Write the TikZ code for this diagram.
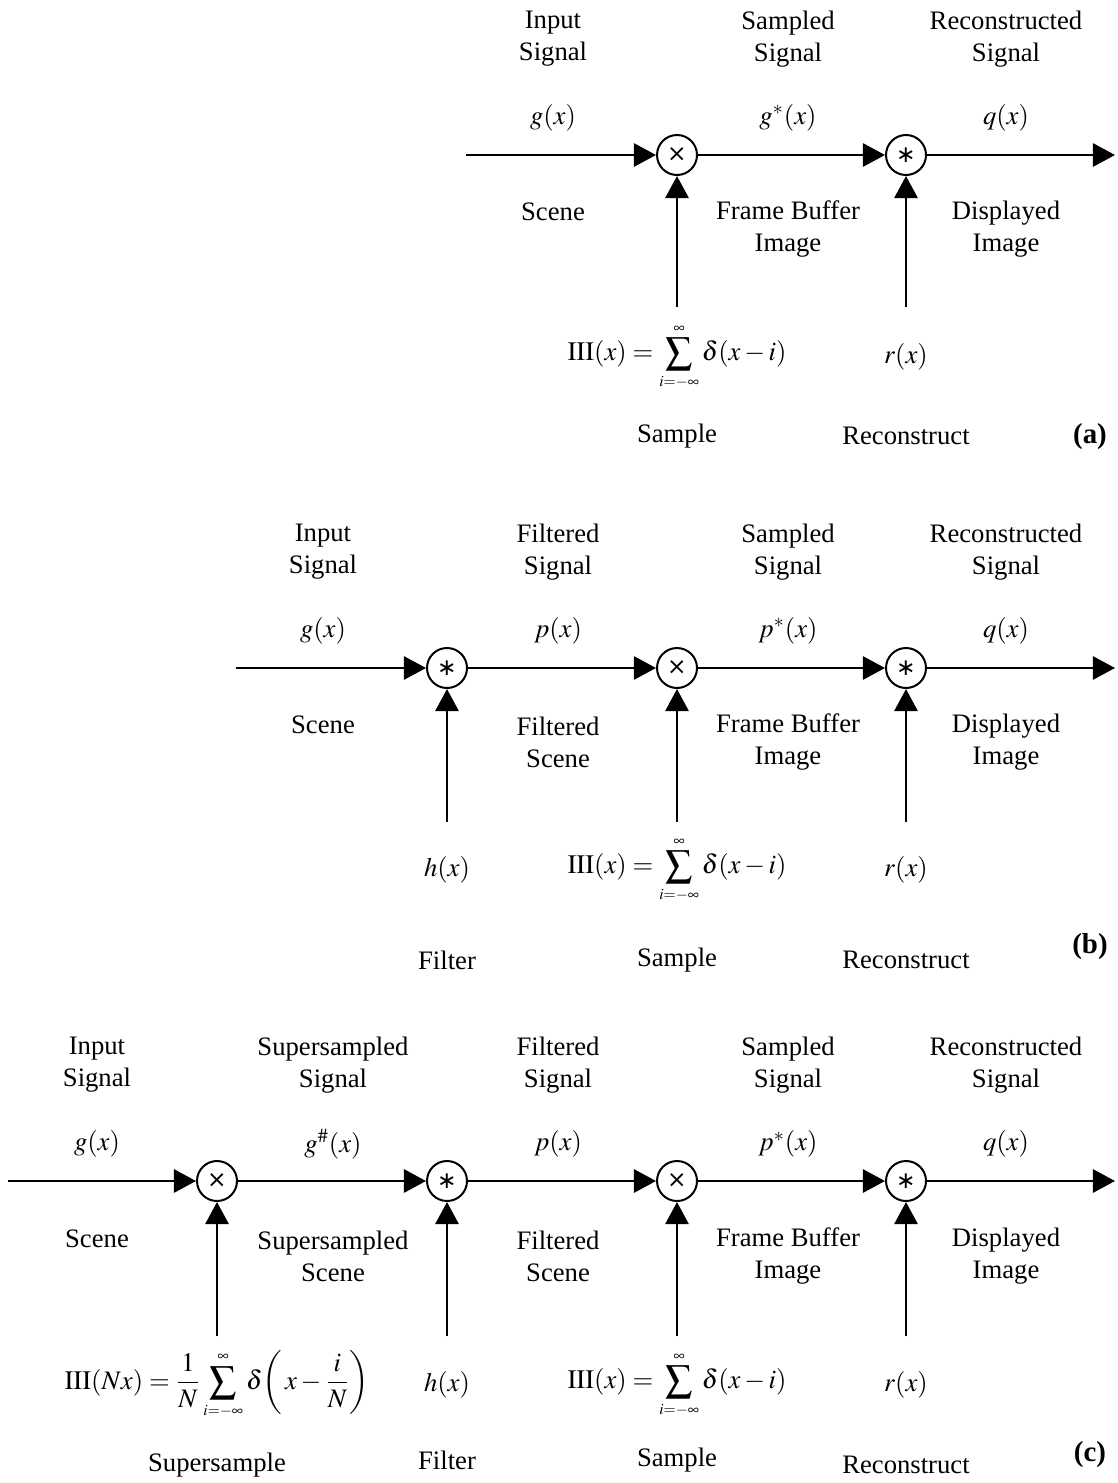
\documentclass[12pt,tikz,border=0pt]{standalone}
\usepackage{amsmath, amssymb}
\usepackage{mathptmx}
\usepackage{fontspec}
\setmainfont{Liberation Serif}
\newfontfamily\opfont{DejaVu Sans}
\usetikzlibrary{arrows.meta}

\tikzset{
  op/.style={draw, circle, line width=0.9pt, minimum size=18pt, inner sep=0pt, fill=white, font=\opfont\fontsize{10.5}{10.5}\selectfont},
  sig/.style={line width=1.1pt, -{Triangle[length=10pt,width=10.5pt]}},
  lbl/.style={align=center, inner sep=0pt},
  tag/.style={inner sep=0pt, font=\fontsize{13}{15}\selectfont\bfseries},
}
\newcommand{\shah}{\mathrm{III}}
\newcommand{\combsum}{\sum\limits_{\scriptscriptstyle i=-\infty}^{\scriptscriptstyle\infty}}

\begin{document}
\begin{tikzpicture}[x=0.45pt,y=-0.45pt]
      \useasboundingbox (0,0) rectangle (1117,1483);
      % (a)
      \coordinate (ain) at (466,155);
      \node [op] (ax) at (677,155) {×};
      \node [op] (ar) at (906,155) {∗};
      \coordinate (aout) at (1115,155);
      \coordinate (axs) at (677,307);
      \coordinate (ars) at (906,307);
      \draw [sig] (ain) -- (ax);
      \draw [sig] (ax) -- (ar);
      \draw [sig] (ar) -- (aout);
      \draw [sig] (axs) -- (ax);
      \draw [sig] (ars) -- (ar);
      \node [lbl] (ainsig) at (553,39) {Input\\Signal};
      \node [lbl] (ag) at (553,118) {$g(x)$};
      \node [lbl] (ascene) at (553,212) {Scene};
      \node [lbl] (asmpsig) at (788,39) {Sampled\\Signal};
      \node [lbl] (agst) at (788,118) {$g^{*}(x)$};
      \node [lbl] (afb) at (788,229) {Frame Buffer\\Image};
      \node [lbl] (arecsig) at (1006,39) {Reconstructed\\Signal};
      \node [lbl] (aq) at (1006,118) {$q(x)$};
      \node [lbl] (adisp) at (1006,229) {Displayed\\Image};
      \node [lbl] (ashah) at (677,357) {$\shah(x)=\displaystyle\combsum\delta(x-i)$};
      \node [lbl] (arf) at (906,357) {$r(x)$};
      \node [lbl] (asample) at (677,436) {Sample};
      \node [lbl] (arecon) at (906,436) {Reconstruct};
      \node [tag] (atag) at (1090,437) {(a)};
      % (b)
      \coordinate (bin) at (236,668);
      \node [op] (bf) at (447,668) {∗};
      \node [op] (bx) at (677,668) {×};
      \node [op] (br) at (906,668) {∗};
      \coordinate (bout) at (1115,668);
      \coordinate (bfs) at (447,822);
      \coordinate (bxs) at (677,822);
      \coordinate (brs) at (906,822);
      \draw [sig] (bin) -- (bf);
      \draw [sig] (bf) -- (bx);
      \draw [sig] (bx) -- (br);
      \draw [sig] (br) -- (bout);
      \draw [sig] (bfs) -- (bf);
      \draw [sig] (bxs) -- (bx);
      \draw [sig] (brs) -- (br);
      \node [lbl] (binsig) at (323,552) {Input\\Signal};
      \node [lbl] (bg) at (323,631) {$g(x)$};
      \node [lbl] (bscene) at (323,725) {Scene};
      \node [lbl] (bfltsig) at (558,552) {Filtered\\Signal};
      \node [lbl] (bp) at (558,631) {$p(x)$};
      \node [lbl] (bfltscene) at (558,742) {Filtered\\Scene};
      \node [lbl] (bsmpsig) at (788,552) {Sampled\\Signal};
      \node [lbl] (bpst) at (788,631) {$p^{*}(x)$};
      \node [lbl] (bfb) at (788,742) {Frame Buffer\\Image};
      \node [lbl] (brecsig) at (1006,552) {Reconstructed\\Signal};
      \node [lbl] (bq) at (1006,631) {$q(x)$};
      \node [lbl] (bdisp) at (1006,742) {Displayed\\Image};
      \node [lbl] (bh) at (447,870) {$h(x)$};
      \node [lbl] (bshah) at (677,870) {$\shah(x)=\displaystyle\combsum\delta(x-i)$};
      \node [lbl] (brf) at (906,870) {$r(x)$};
      \node [lbl] (bfilter) at (447,960) {Filter};
      \node [lbl] (bsample) at (677,960) {Sample};
      \node [lbl] (brecon) at (906,960) {Reconstruct};
      \node [tag] (btag) at (1090,947) {(b)};
      % (c)
      \coordinate (cin) at (8,1181);
      \node [op] (cs) at (217,1181) {×};
      \node [op] (cf) at (447,1181) {∗};
      \node [op] (cx) at (677,1181) {×};
      \node [op] (cr) at (906,1181) {∗};
      \coordinate (cout) at (1115,1181);
      \coordinate (css) at (217,1336);
      \coordinate (cfs) at (447,1336);
      \coordinate (cxs) at (677,1336);
      \coordinate (crs) at (906,1336);
      \draw [sig] (cin) -- (cs);
      \draw [sig] (cs) -- (cf);
      \draw [sig] (cf) -- (cx);
      \draw [sig] (cx) -- (cr);
      \draw [sig] (cr) -- (cout);
      \draw [sig] (css) -- (cs);
      \draw [sig] (cfs) -- (cf);
      \draw [sig] (cxs) -- (cx);
      \draw [sig] (crs) -- (cr);
      \node [lbl] (cinsig) at (97,1065) {Input\\Signal};
      \node [lbl] (cg) at (97,1144) {$g(x)$};
      \node [lbl] (cscene) at (97,1239) {Scene};
      \node [lbl] (csupsig) at (333,1065) {Supersampled\\Signal};
      \node [lbl] (cgsh) at (333,1144) {$g^{\#}(x)$};
      \node [lbl] (csupscene) at (333,1256) {Supersampled\\Scene};
      \node [lbl] (cfltsig) at (558,1065) {Filtered\\Signal};
      \node [lbl] (cp) at (558,1144) {$p(x)$};
      \node [lbl] (cfltscene) at (558,1256) {Filtered\\Scene};
      \node [lbl] (csmpsig) at (788,1065) {Sampled\\Signal};
      \node [lbl] (cpst) at (788,1144) {$p^{*}(x)$};
      \node [lbl] (cfb) at (788,1256) {Frame Buffer\\Image};
      \node [lbl] (crecsig) at (1006,1065) {Reconstructed\\Signal};
      \node [lbl] (cq) at (1006,1144) {$q(x)$};
      \node [lbl] (cdisp) at (1006,1256) {Displayed\\Image};
      \node [lbl] (cshahn) at (217,1385) {$\shah(Nx)=\dfrac{1}{N}\displaystyle\combsum\delta\!\left(\,x-\dfrac{i}{N}\right)$};
      \node [lbl] (ch) at (447,1385) {$h(x)$};
      \node [lbl] (cshah) at (677,1385) {$\shah(x)=\displaystyle\combsum\delta(x-i)$};
      \node [lbl] (crf) at (906,1385) {$r(x)$};
      \node [lbl] (csupsmp) at (217,1465) {Supersample};
      \node [lbl] (cfilter) at (447,1460) {Filter};
      \node [lbl] (csample) at (677,1460) {Sample};
      \node [lbl] (crecon) at (906,1465) {Reconstruct};
      \node [tag] (ctag) at (1090,1455) {(c)};
\end{tikzpicture}
\end{document}
